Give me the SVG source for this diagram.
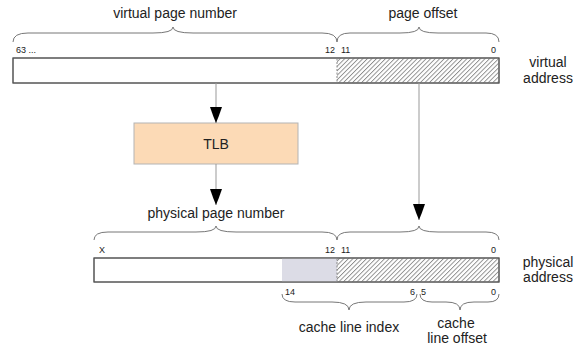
<svg xmlns="http://www.w3.org/2000/svg" width="578" height="347" viewBox="0 0 578 347">
  <style>
    text { font-family: "Liberation Sans", Arial, sans-serif; fill: #222; }
    .title { font-size: 14px; text-anchor: middle; }
    .bit { font-size: 9px; }
    .bar { fill: #fff; stroke: #555; stroke-width: 1; }
    .hatch { fill: url(#hatch); stroke: none; }
    .split { stroke: #888; stroke-width: 1; stroke-dasharray: 2 1.5; }
    .brace { fill: none; stroke: #777; stroke-width: 1; }
    .shaft { fill: none; stroke: #999; stroke-width: 1; marker-end: url(#head); }
  </style>
  <defs>
    <pattern id="hatch" width="3.2" height="10" patternUnits="userSpaceOnUse" patternTransform="rotate(45)">
      <line x1="0.5" y1="0" x2="0.5" y2="10" stroke="#555" stroke-width="0.7"/>
    </pattern>
    <marker id="head" markerUnits="userSpaceOnUse" markerWidth="18" markerHeight="14" refX="16" refY="7" orient="auto" overflow="visible">
      <path d="M0,1 Q9,4 16,7 Q9,10 0,13 Z" fill="#000"/>
    </marker>
  </defs>

  <!-- virtual address -->
  <g id="virtual-address">
    <rect class="bar" x="13" y="58" width="486" height="25"/>
    <rect class="hatch" x="337" y="58.5" width="161.5" height="24"/>
    <rect x="13" y="58" width="486" height="25" fill="none" stroke="#555"/>
    <line class="split" x1="337" y1="58.5" x2="337" y2="82.5"/>
    <text class="bit" x="16" y="53">63 ...</text>
    <text class="bit" x="335" y="53" text-anchor="end">12</text>
    <text class="bit" x="341" y="53">11</text>
    <text class="bit" x="496" y="53" text-anchor="end">0</text>
    <text class="title" x="548" y="67">virtual</text>
    <text class="title" x="548" y="83">address</text>
  </g>

  <g id="vpn-brace">
    <path class="brace" d="M13,42 Q13,33 28,33 H153 Q173,33 173,27 Q173,33 193,33 H322 Q337,33 337,42"/>
    <text class="title" x="175" y="18">virtual page number</text>
  </g>

  <g id="offset-brace">
    <path class="brace" d="M337,42 Q337,33 350,33 H400 Q419,33 419,27 Q419,33 438,33 H486 Q499,33 499,42"/>
    <text class="title" x="423" y="18">page offset</text>
  </g>

  <!-- TLB -->
  <g id="tlb">
    <rect x="134" y="123" width="164" height="41" fill="#fcdab6" stroke="#b4b4b4" stroke-width="1"/>
    <text class="title" x="216" y="149">TLB</text>
  </g>

  <!-- physical address -->
  <g id="physical-address">
    <rect class="bar" x="94" y="258" width="405" height="24"/>
    <rect x="282" y="258.5" width="55" height="23" fill="#dcdce6"/>
    <rect class="hatch" x="337" y="258.5" width="161.5" height="23"/>
    <rect x="94" y="258" width="405" height="24" fill="none" stroke="#555"/>
    <line class="split" x1="337" y1="258.5" x2="337" y2="281.5"/>
    <text class="bit" x="99" y="253">X</text>
    <text class="bit" x="335" y="253" text-anchor="end">12</text>
    <text class="bit" x="341" y="253">11</text>
    <text class="bit" x="496" y="253" text-anchor="end">0</text>
    <text class="bit" x="285" y="295">14</text>
    <text class="bit" x="415" y="295" text-anchor="end">6</text>
    <text class="bit" x="421" y="295">5</text>
    <text class="bit" x="496" y="295" text-anchor="end">0</text>
    <text class="title" x="548" y="267">physical</text>
    <text class="title" x="548" y="282">address</text>
  </g>

  <g id="ppn-brace">
    <path class="brace" d="M94,240 Q94,232 108,232 H196 Q216,232 216,226 Q216,232 236,232 H322 Q337,232 337,240"/>
    <text class="title" x="216" y="218">physical page number</text>
  </g>

  <g id="phys-offset-brace">
    <path class="brace" d="M337,240 Q337,232 350,232 H400 Q419,232 419,226 Q419,232 438,232 H486 Q499,232 499,240"/>
  </g>

  <g id="index-brace">
    <path class="brace" d="M282,294 Q282,302 295,302 H332 Q349,302 349,310 Q349,302 366,302 H404 Q417,302 417,294"/>
    <text class="title" x="349" y="332">cache line index</text>
  </g>

  <g id="line-offset-brace">
    <path class="brace" d="M420,294 Q420,302 432,302 H446 Q460,302 460,310 Q460,302 474,302 H488 Q499,302 499,294"/>
    <text class="title" x="456" y="328">cache</text>
    <text class="title" x="457" y="343">line offset</text>
  </g>

  <!-- connectors -->
  <g id="connectors">
    <path class="shaft" d="M216,83 V123"/>
    <path class="shaft" d="M216,164 V205"/>
    <path class="shaft" d="M419,83 V220"/>
  </g>
</svg>
